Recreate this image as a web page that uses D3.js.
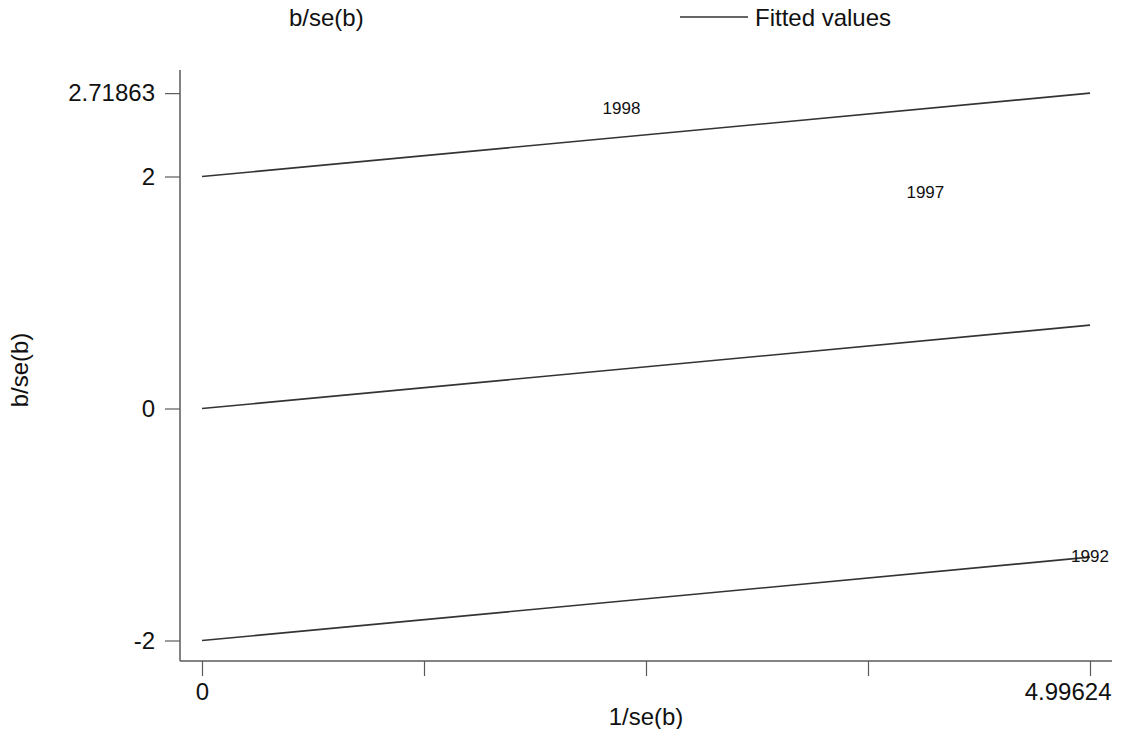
<!DOCTYPE html>
<html>
<head>
<meta charset="utf-8">
<script src="https://cdn.jsdelivr.net/npm/d3@7"></script>
<style>
  html, body { margin: 0; padding: 0; background: #fff; }
  svg { display: block; font-family: "Liberation Sans", Arial, sans-serif; }
</style>
</head>
<body>
<svg id="chart" width="1123" height="729"></svg>
<script>
// Galbraith plot: standardized estimates against precision
const years = ["1998", "1997", "1992"];
const precision = [2.36, 4.07, 4.99624];   // 1/se(b)
const zStat = [2.59, 1.86, -1.28];         // b/se(b)

// Fitted line through the origin and the ±2 bands
const slope = 0.71863 / 4.99624;
const bandOffsets = [2, 0, -2];
const xDomain = [0, 4.99624];

const yTickValues = [-2, 0, 2, 2.71863];
const yTickLabels = ["-2", "0", "2", "2.71863"];
const xTickValues = [0, 1.24906, 2.49812, 3.74718, 4.99624];
const xTickLabels = ["0", "", "", "", "4.99624"];

const svg = d3.select("#chart");
const x = d3.scaleLinear().domain(xDomain).range([202, 1090]);
const y = d3.scaleLinear().domain([-2, 2]).range([640.5, 176.5]);

const axisColor = "#5a5a5a";
const lineColor = "#333";
const font = "Liberation Sans, Arial, sans-serif";

// Axes
const yAxis = d3.axisLeft(y)
  .tickValues(yTickValues)
  .tickFormat((d, i) => yTickLabels[i])
  .tickSize(15).tickPadding(10);
const xAxis = d3.axisBottom(x)
  .tickValues(xTickValues)
  .tickFormat((d, i) => xTickLabels[i])
  .tickSize(15).tickPadding(7);

const gy = svg.append("g").attr("transform", "translate(180,0)").call(yAxis);
gy.select(".domain").remove();
gy.append("line").attr("x1", 0).attr("x2", 0).attr("y1", 70).attr("y2", 661)
  .attr("stroke", axisColor).attr("stroke-width", 1.5);

const gx = svg.append("g").attr("transform", "translate(0,661)").call(xAxis);
gx.select(".domain").remove();
gx.append("line").attr("x1", 180).attr("x2", 1112).attr("y1", 0).attr("y2", 0)
  .attr("stroke", axisColor).attr("stroke-width", 1.5);

[gx, gy].forEach(g => {
  g.selectAll(".tick line").attr("stroke", axisColor).attr("stroke-width", 1.2);
  g.selectAll(".tick text").attr("fill", "#111").style("font-size", "24px")
    .style("font-family", font);
});
// the last x label sits flush with the end of the axis
gx.selectAll(".tick text").filter((d, i) => i === xTickValues.length - 1)
  .attr("text-anchor", "end").attr("dx", 21);

// Fitted lines
const line = d3.line().x(d => x(d[0])).y(d => y(d[1]));
svg.append("g").selectAll("path")
  .data(bandOffsets)
  .join("path")
  .attr("d", off => line(xDomain.map(v => [v, slope * v + off])))
  .attr("fill", "none")
  .attr("stroke", lineColor)
  .attr("stroke-width", 1.6);

// Year labels at each point
svg.append("g").selectAll("text")
  .data(years)
  .join("text")
  .attr("x", (d, i) => x(precision[i]))
  .attr("y", (d, i) => y(zStat[i]))
  .attr("text-anchor", "middle")
  .attr("dominant-baseline", "central")
  .attr("fill", "#111")
  .style("font-size", "17px")
  .text(d => d);

// Axis titles
svg.append("text")
  .attr("x", 646).attr("y", 725)
  .attr("text-anchor", "middle").attr("fill", "#111")
  .style("font-size", "24px").text("1/se(b)");
svg.append("text")
  .attr("transform", "translate(28,370) rotate(-90)")
  .attr("text-anchor", "middle").attr("fill", "#111")
  .style("font-size", "24px").text("b/se(b)");

// Legend
const legend = svg.append("g");
legend.append("text").attr("x", 289).attr("y", 26).attr("fill", "#111")
  .style("font-size", "24px").text("b/se(b)");
legend.append("line").attr("x1", 680).attr("x2", 748).attr("y1", 17).attr("y2", 17)
  .attr("stroke", lineColor).attr("stroke-width", 1.6);
legend.append("text").attr("x", 755).attr("y", 26).attr("fill", "#111")
  .style("font-size", "24px").text("Fitted values");
</script>
</body>
</html>
